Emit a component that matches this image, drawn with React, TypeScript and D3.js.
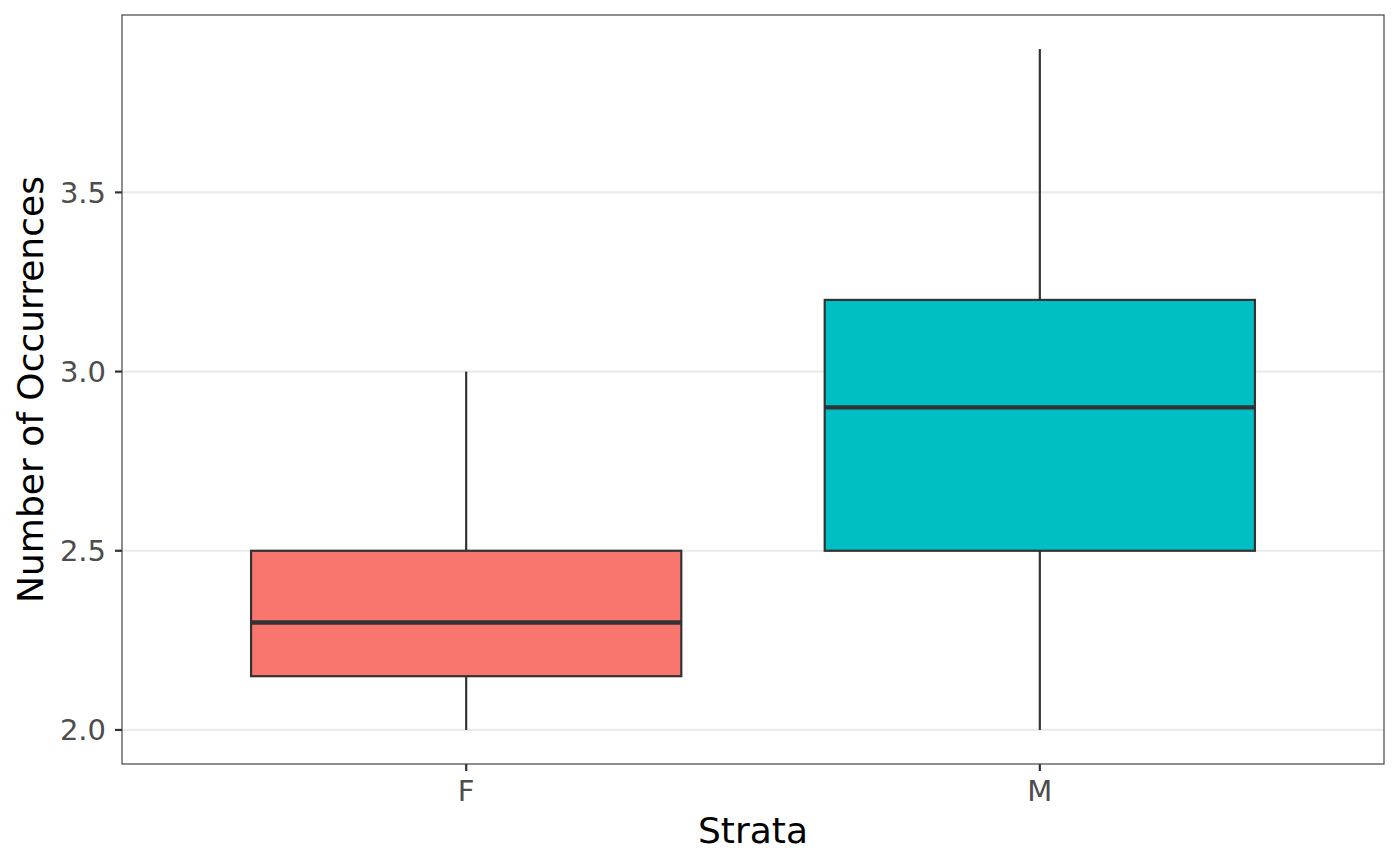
import React from "react";
import * as d3 from "d3";

const categories = ["F", "M"];
const lowerWhisker = [2.0, 2.0];
const q1 = [2.15, 2.5];
const median = [2.3, 2.9];
const q3 = [2.5, 3.2];
const upperWhisker = [3.0, 3.9];
const fills = ["#F8766D", "#00BFC4"];
const yTicks = [2.0, 2.5, 3.0, 3.5];

export default function App() {
  const W = 1400, H = 865;
  const left = 122, right = 1384, top = 15, bottom = 764;
  const lo = d3.min(lowerWhisker)!;
  const hi = d3.max(upperWhisker)!;
  const pad = (hi - lo) * 0.05;
  const y = d3.scaleLinear().domain([lo - pad, hi + pad]).range([bottom, top]);
  const x = d3.scaleLinear().domain([0.4, categories.length + 0.6]).range([left, right]);
  const bw = (x(1.375) - x(0.625));
  const ink = "#333333";
  return (
    <svg width={W} height={H} style={{ position: "absolute", left: 0, top: 0, background: "#fff" }}
      fontFamily="DejaVu Sans">
      <rect x={0} y={0} width={W} height={H} fill="#fff" />
      {yTicks.map((t) => (
        <line key={"g" + t} x1={left} x2={right} y1={y(t)} y2={y(t)} stroke="#EBEBEB" strokeWidth={2.2} />
      ))}
      {categories.map((c, i) => {
        const cx = x(i + 1);
        return (
          <g key={c}>
            <line x1={cx} x2={cx} y1={y(q3[i])} y2={y(upperWhisker[i])} stroke={ink} strokeWidth={2.2} />
            <line x1={cx} x2={cx} y1={y(q1[i])} y2={y(lowerWhisker[i])} stroke={ink} strokeWidth={2.2} />
            <rect x={cx - bw / 2} y={y(q3[i])} width={bw} height={y(q1[i]) - y(q3[i])}
              fill={fills[i]} stroke={ink} strokeWidth={2.2} />
            <line x1={cx - bw / 2} x2={cx + bw / 2} y1={y(median[i])} y2={y(median[i])} stroke={ink} strokeWidth={4.4} />
          </g>
        );
      })}
      <rect x={left} y={top} width={right - left} height={bottom - top} fill="none" stroke={ink} strokeWidth={1.1} />
      {yTicks.map((t) => (
        <g key={"t" + t}>
          <line x1={left - 7} x2={left} y1={y(t)} y2={y(t)} stroke={ink} strokeWidth={2.2} />
          <text x={left - 16} y={y(t)} dy="0.36em" textAnchor="end" fontSize={29} fill="#4D4D4D">{t.toFixed(1)}</text>
        </g>
      ))}
      {categories.map((c, i) => (
        <g key={"x" + c}>
          <line x1={x(i + 1)} x2={x(i + 1)} y1={bottom} y2={bottom + 7} stroke={ink} strokeWidth={2.2} />
          <text x={x(i + 1)} y={801} textAnchor="middle" fontSize={29} fill="#4D4D4D">{c}</text>
        </g>
      ))}
      <text x={(left + right) / 2} y={843} textAnchor="middle" fontSize={36} fill="#000">Strata</text>
      <text transform={`translate(43, ${(top + bottom) / 2}) rotate(-90)`} textAnchor="middle" fontSize={36} fill="#000">Number of Occurrences</text>
    </svg>
  );
}
